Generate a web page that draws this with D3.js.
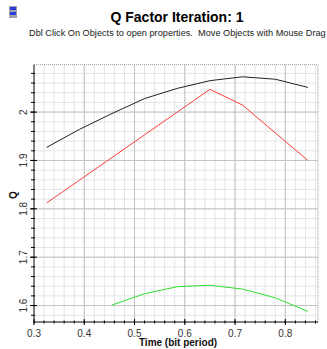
<!DOCTYPE html>
<html>
<head>
<meta charset="utf-8">
<script src="https://cdn.jsdelivr.net/npm/d3@7"></script>
<style>
  html, body { margin: 0; padding: 0; background: #fff; overflow: hidden; }
  svg { display: block; font-family: Arial, "Liberation Sans", sans-serif; }
</style>
</head>
<body>
<div id="chart"></div>
<script>
const timeValues = [0.325, 0.39, 0.455, 0.52, 0.585, 0.65, 0.715, 0.78, 0.845];
const qBlack = [1.927, 1.964, 1.997, 2.028, 2.049, 2.065, 2.073, 2.068, 2.051];
const qRed = [1.812, 1.859, 1.906, 1.953, 2.0, 2.047, 2.0145, 1.957, 1.9];
const qGreen = [null, null, 1.601, 1.6245, 1.639, 1.642, 1.634, 1.616, 1.588];
const xTicks = [0.3, 0.4, 0.5, 0.6, 0.7, 0.8];
const yTicks = [1.6, 1.7, 1.8, 1.9, 2];

const width = 327, height = 349;
const margin = { top: 64.7, right: 9, bottom: 27, left: 34 };
const innerWidth = width - margin.left - margin.right;
const innerHeight = height - margin.top - margin.bottom;

const x = d3.scaleLinear().domain([0.3, 0.865]).range([0, innerWidth]);
const y = d3.scaleLinear().domain([1.566, 2.098]).range([innerHeight, 0]);

const svg = d3.select('#chart').append('svg').attr('width', width).attr('height', height);

// window icon
const icon = svg.append('g').attr('transform', 'translate(9,6)');
icon.append('rect').attr('x', 0).attr('y', 0).attr('width', 8).attr('height', 12).attr('fill', '#a0a4b0');
icon.append('rect').attr('x', 1).attr('y', 1).attr('width', 6).attr('height', 3).attr('fill', '#2a3fd8');
icon.append('rect').attr('x', 1).attr('y', 6).attr('width', 6).attr('height', 3).attr('fill', '#2a3fd8');

svg.append('text')
  .attr('x', 177).attr('y', 22)
  .attr('text-anchor', 'middle')
  .attr('font-size', 14).attr('font-weight', 'bold').attr('fill', '#000')
  .text('Q Factor Iteration: 1');

svg.append('text')
  .attr('x', 29).attr('y', 36)
  .attr('font-size', 9.2).attr('fill', '#222')
  .attr('xml:space', 'preserve')
  .text('Dbl Click On Objects to open properties.  Move Objects with Mouse Drag');

const g = svg.append('g').attr('transform', `translate(${margin.left},${margin.top})`);

// grid
const minorX = d3.range(0.32, 0.865, 0.02);
const minorY = d3.range(1.58, 2.098, 0.02);
g.append('g').selectAll('line').data(minorX).join('line')
  .attr('x1', (d) => x(d)).attr('x2', (d) => x(d))
  .attr('y1', 0).attr('y2', innerHeight)
  .attr('stroke', '#e4e4e4').attr('stroke-width', 1);
g.append('g').selectAll('line').data(minorY).join('line')
  .attr('x1', 0).attr('x2', innerWidth)
  .attr('y1', (d) => y(d)).attr('y2', (d) => y(d))
  .attr('stroke', '#e4e4e4').attr('stroke-width', 1);
g.append('g').selectAll('line').data(xTicks.slice(1)).join('line')
  .attr('x1', (d) => x(d)).attr('x2', (d) => x(d))
  .attr('y1', 0).attr('y2', innerHeight)
  .attr('stroke', '#c4c4c4').attr('stroke-width', 1);
g.append('g').selectAll('line').data(yTicks).join('line')
  .attr('x1', 0).attr('x2', innerWidth)
  .attr('y1', (d) => y(d)).attr('y2', (d) => y(d))
  .attr('stroke', '#c4c4c4').attr('stroke-width', 1);

// dotted top/right border
g.append('path')
  .attr('d', `M0,0H${innerWidth}V${innerHeight}`)
  .attr('fill', 'none').attr('stroke', '#999').attr('stroke-dasharray', '1,1');

// lines
const line = d3.line()
  .defined((d) => d[1] != null)
  .x((d) => x(d[0]))
  .y((d) => y(d[1]));
const series = [
  { values: qBlack, color: '#222' },
  { values: qRed, color: '#ff3d3d' },
  { values: qGreen, color: '#2ee02e' },
];
series.forEach((s) => {
  g.append('path')
    .datum(timeValues.map((t, i) => [t, s.values[i]]))
    .attr('d', line)
    .attr('fill', 'none')
    .attr('stroke', s.color)
    .attr('stroke-width', 1);
});

// axes
const minorTicksX = d3.range(0.3, 0.865, 0.02);
const minorTicksY = d3.range(1.58, 2.098, 0.02);
g.append('line').attr('x1', 0).attr('x2', innerWidth).attr('y1', innerHeight).attr('y2', innerHeight).attr('stroke', '#000');
g.append('line').attr('x1', 0).attr('x2', 0).attr('y1', 0).attr('y2', innerHeight).attr('stroke', '#000');
g.append('g').selectAll('line').data(minorTicksX).join('line')
  .attr('x1', (d) => x(d)).attr('x2', (d) => x(d))
  .attr('y1', innerHeight - 1.5).attr('y2', innerHeight + 1.5).attr('stroke', '#000');
g.append('g').selectAll('line').data(minorTicksY).join('line')
  .attr('x1', -3).attr('x2', 1).attr('y1', (d) => y(d)).attr('y2', (d) => y(d)).attr('stroke', '#000');
g.append('g').selectAll('line').data(yTicks).join('line')
  .attr('x1', -4).attr('x2', 3).attr('y1', (d) => y(d)).attr('y2', (d) => y(d)).attr('stroke', '#000');
g.append('g').selectAll('line').data(xTicks).join('line')
  .attr('x1', (d) => x(d)).attr('x2', (d) => x(d))
  .attr('y1', innerHeight - 3).attr('y2', innerHeight + 3).attr('stroke', '#000');

g.append('g').selectAll('text').data(xTicks).join('text')
  .attr('x', (d) => x(d)).attr('y', innerHeight + 15)
  .attr('text-anchor', 'middle').attr('font-size', 10).attr('fill', '#333')
  .text((d) => d3.format('.1f')(d));
g.append('g').selectAll('text').data(yTicks).join('text')
  .attr('transform', (d) => `translate(-7,${y(d)}) rotate(-90)`)
  .attr('text-anchor', 'middle').attr('font-size', 10).attr('fill', '#333')
  .text((d) => (d === 2 ? '2' : d3.format('.1f')(d)));

svg.append('text')
  .attr('transform', 'translate(17,195) rotate(-90)')
  .attr('text-anchor', 'middle').attr('font-size', 10).attr('font-weight', 'bold').attr('fill', '#111')
  .text('Q');
svg.append('text')
  .attr('x', 178).attr('y', 346)
  .attr('text-anchor', 'middle').attr('font-size', 10).attr('font-weight', 'bold').attr('fill', '#111')
  .text('Time (bit period)');
</script>
</body>
</html>
